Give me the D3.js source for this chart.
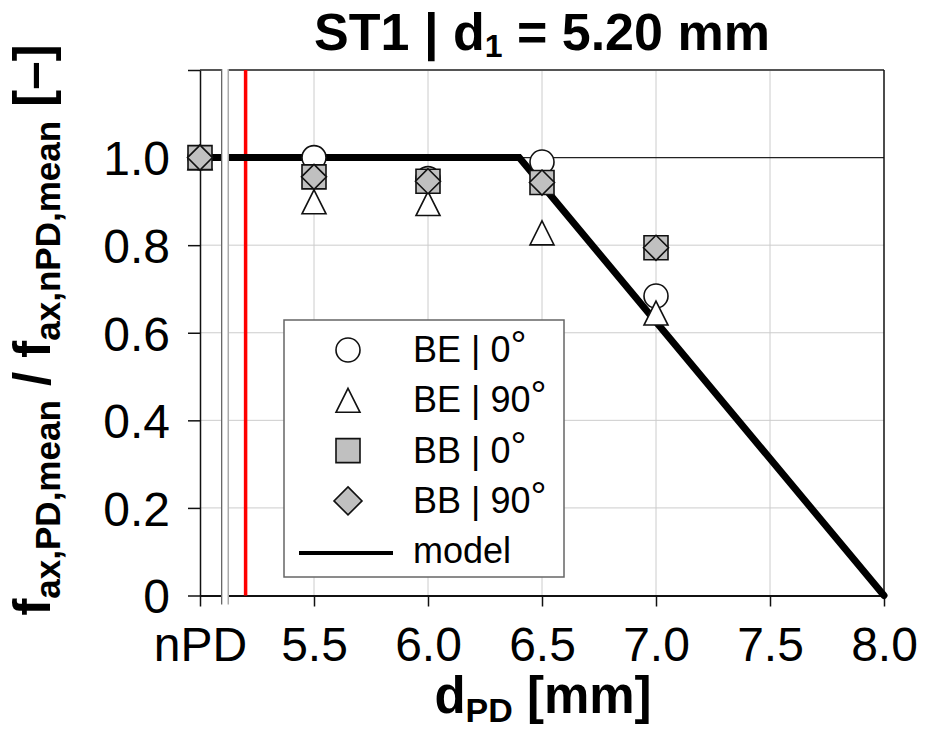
<!DOCTYPE html>
<html>
<head>
<meta charset="utf-8">
<script src="https://cdn.jsdelivr.net/npm/d3@7"></script>
<style>
  html, body { margin: 0; padding: 0; background: #fff; }
  svg { display: block; font-family: "Liberation Sans", Arial, sans-serif; }
</style>
</head>
<body>
<svg id="chart" width="925" height="734"></svg>
<script>
// Pin diameter positions (nPD = no pre-drilling, placed at 5.0 on the axis)
const dPD = [5.0, 5.5, 6.0, 6.5, 7.0];

// Normalised withdrawal capacity f_ax,PD,mean / f_ax,nPD,mean per series
const BE_0  = [1.000, 1.000, 0.952, 0.990, 0.684];
const BE_90 = [1.000, 0.899, 0.895, 0.828, 0.645];
const BB_0  = [1.000, 0.956, 0.946, 0.943, 0.794];
const BB_90 = [1.000, 0.956, 0.946, 0.943, 0.794];

// Model: plateau at 1.0, then linear drop to zero
const modelX = [5.0, 6.4, 8.0];
const modelY = [1.0, 1.0, 0.0];

// Axis ticks and labels
const xTicks = [5.0, 5.5, 6.0, 6.5, 7.0, 7.5, 8.0];
const xTickLabels = ["nPD", "5.5", "6.0", "6.5", "7.0", "7.5", "8.0"];
const yTicks = [0, 0.2, 0.4, 0.6, 0.8, 1.0, 1.2];
const yTickLabels = ["0", "0.2", "0.4", "0.6", "0.8", "1.0", ""];

const d1 = 5.20;                 // pre-drilling diameter d1 (red marker line)
const axisBreak = [5.095, 5.124]; // gap between nPD and the numeric axis

const svg = d3.select("#chart");
const x = d3.scaleLinear().domain([5.0, 8.0]).range([200, 884]);
const y = d3.scaleLinear().domain([0, 1.2]).range([595.5, 70]);

const FONT = 48;

// Grid
const grid = svg.append("g");
grid.selectAll("line.gx").data(xTicks.filter(t => t > 5.0 && t < 8.0)).join("line")
  .attr("x1", d => x(d)).attr("x2", d => x(d))
  .attr("y1", y(1.2)).attr("y2", y(0))
  .attr("stroke", "#cccccc").attr("stroke-width", 1);
grid.selectAll("line.gy").data(yTicks.filter(t => t > 0 && t < 1.0)).join("line")
  .attr("x1", x(5.0)).attr("x2", x(8.0))
  .attr("y1", d => y(d)).attr("y2", d => y(d))
  .attr("stroke", "#cccccc").attr("stroke-width", 1);
// reference line at 1.0
grid.append("line")
  .attr("x1", x(5.0)).attr("x2", x(8.0))
  .attr("y1", y(1.0)).attr("y2", y(1.0))
  .attr("stroke", "#222").attr("stroke-width", 1.2);

// Frame: top and right
svg.append("line").attr("x1", x(5.0)).attr("x2", x(8.0))
  .attr("y1", y(1.2)).attr("y2", y(1.2))
  .attr("stroke", "#555").attr("stroke-width", 2);
svg.append("line").attr("x1", x(8.0)).attr("x2", x(8.0))
  .attr("y1", y(1.2)).attr("y2", y(0))
  .attr("stroke", "#111").attr("stroke-width", 1.5);

// Axes
const xAxis = d3.axisBottom(x).tickValues(xTicks)
  .tickFormat((d, i) => xTickLabels[i]).tickSize(11).tickSizeOuter(0).tickPadding(20);
const gx = svg.append("g").attr("transform", `translate(0,${y(0)})`).call(xAxis);
gx.select(".domain").attr("stroke", "#111").attr("stroke-width", 2);
gx.selectAll(".tick line").attr("stroke", "#111").attr("stroke-width", 1.5);
gx.selectAll(".tick text").attr("font-size", FONT).attr("fill", "#000")
  .attr("font-family", "'Liberation Sans', Arial, sans-serif");

const yAxis = d3.axisLeft(y).tickValues(yTicks)
  .tickFormat((d, i) => yTickLabels[i]).tickSize(12).tickSizeOuter(0).tickPadding(18);
const gy = svg.append("g").attr("transform", `translate(${x(5.0)},0)`).call(yAxis);
gy.select(".domain").attr("stroke", "#111").attr("stroke-width", 1.5);
gy.selectAll(".tick line").attr("stroke", "#111").attr("stroke-width", 1.5);
gy.selectAll(".tick text").attr("font-size", FONT).attr("fill", "#000").attr("dy", "0.36em")
  .attr("font-family", "'Liberation Sans', Arial, sans-serif");

// d1 marker
svg.append("line").attr("x1", x(d1)).attr("x2", x(d1))
  .attr("y1", y(1.2)).attr("y2", y(0))
  .attr("stroke", "#ff0000").attr("stroke-width", 3.5);

// Model line
const modelPts = modelX.map((v, i) => [v, modelY[i]]);
svg.append("path")
  .datum(modelPts)
  .attr("d", d3.line().x(d => x(d[0])).y(d => y(d[1])))
  .attr("fill", "none").attr("stroke", "#000").attr("stroke-width", 7)
  .attr("stroke-linejoin", "miter").attr("stroke-linecap", "round");

// Axis break band
svg.append("rect")
  .attr("x", x(axisBreak[0])).attr("width", x(axisBreak[1]) - x(axisBreak[0]))
  .attr("y", y(1.2) - 3).attr("height", y(0) - y(1.2) + 12)
  .attr("fill", "#fff");
svg.append("line").attr("x1", x(axisBreak[0])).attr("x2", x(axisBreak[0]))
  .attr("y1", y(1.2) - 1).attr("y2", y(0) + 9)
  .attr("stroke", "#666").attr("stroke-width", 1.3);
svg.append("line").attr("x1", x(axisBreak[1])).attr("x2", x(axisBreak[1]))
  .attr("y1", y(1.2) - 1).attr("y2", y(0) + 9)
  .attr("stroke", "#aaa").attr("stroke-width", 1.5);

// Marker shapes
const circlePath = r => d3.symbol(d3.symbolCircle, Math.PI * r * r)();
const squarePath = s => `M${-s/2},${-s/2}H${s/2}V${s/2}H${-s/2}Z`;
const diamondPath = h => `M0,${-h}L${h},0L0,${h}L${-h},0Z`;
const trianglePath = (w, h) => `M0,${-h/2}L${w/2},${h/2}L${-w/2},${h/2}Z`;

const series = [
  { name: "BE_0",  vals: BE_0,  path: circlePath(12),       fill: "#fff" },
  { name: "BE_90", vals: BE_90, path: trianglePath(24, 24), fill: "#fff" },
  { name: "BB_0",  vals: BB_0,  path: squarePath(24),       fill: "#c0c0c0" },
  { name: "BB_90", vals: BB_90, path: diamondPath(12.5),    fill: "#c0c0c0" }
];

series.forEach(s => {
  svg.append("g").selectAll("path").data(dPD.map((d, i) => [d, s.vals[i]])).join("path")
    .attr("transform", d => `translate(${x(d[0])},${y(d[1])})`)
    .attr("d", s.path)
    .attr("fill", s.fill).attr("stroke", "#111").attr("stroke-width", 1.6);
});

// Legend
const lg = svg.append("g");
lg.append("rect").attr("x", 284).attr("y", 320).attr("width", 280).attr("height", 257)
  .attr("fill", "#fff").attr("stroke", "#666").attr("stroke-width", 1.5);
const legendItems = [
  { label: "BE | 0", path: circlePath(12),       fill: "#fff" },
  { label: "BE | 90", path: trianglePath(24, 24), fill: "#fff" },
  { label: "BB | 0", path: squarePath(24),       fill: "#c0c0c0" },
  { label: "BB | 90", path: diamondPath(14),     fill: "#c0c0c0" }
];
legendItems.forEach((it, i) => {
  const cy = 350 + i * 50.3;
  lg.append("path").attr("transform", `translate(348,${cy})`).attr("d", it.path)
    .attr("fill", it.fill).attr("stroke", "#111").attr("stroke-width", 1.6);
  const t = lg.append("text").attr("x", 413).attr("y", cy + 12)
    .attr("font-size", 36).attr("fill", "#000");
  t.append("tspan").text(it.label);
  t.append("tspan").attr("font-size", 40).attr("dy", -3).text("°");
});
lg.append("line").attr("x1", 299).attr("x2", 393).attr("y1", 553).attr("y2", 553)
  .attr("stroke", "#000").attr("stroke-width", 4);
lg.append("text").attr("x", 413).attr("y", 563).attr("font-size", 36).text("model");

// Title
const title = svg.append("text").attr("x", 542).attr("y", 50)
  .attr("text-anchor", "middle").attr("font-size", 52).attr("font-weight", "bold");
title.append("tspan").text("ST1 | d");
title.append("tspan").attr("font-size", 32).attr("dy", 7).text("1");
title.append("tspan").attr("dy", -7).text(" = 5.20 mm");

// X axis title
const xt = svg.append("text").attr("x", 543).attr("y", 713)
  .attr("text-anchor", "middle").attr("font-size", 51).attr("font-weight", "bold");
xt.append("tspan").text("d");
xt.append("tspan").attr("font-size", 34).attr("dy", 9).text("PD");
xt.append("tspan").attr("dy", -9).text(" [mm]");

// Y axis title
const yt = svg.append("text")
  .attr("transform", "translate(50,330) rotate(-90)")
  .attr("text-anchor", "middle").attr("font-size", 51).attr("font-weight", "bold");
yt.append("tspan").text("f");
yt.append("tspan").attr("font-size", 35).attr("dy", 10).text("ax,PD,mean");
yt.append("tspan").attr("dy", -10).text(" / f");
yt.append("tspan").attr("font-size", 35).attr("dy", 10).text("ax,nPD,mean");
yt.append("tspan").attr("dy", -10).text(" [–]");
</script>
</body>
</html>
